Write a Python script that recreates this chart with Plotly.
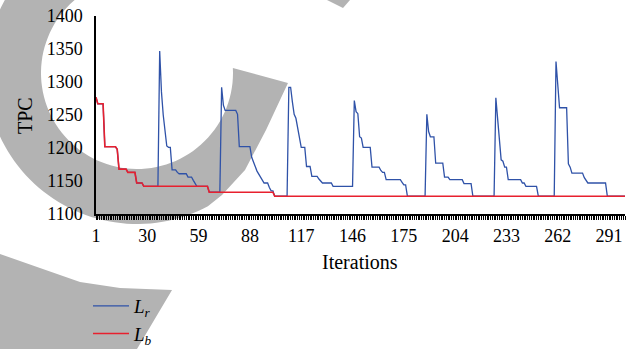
import numpy as np
import plotly.graph_objects as go

# ---------------- data ----------------
iterations = list(range(1, 301))
x_tick_values = [1, 30, 59, 88, 117, 146, 175, 204, 233, 262, 291]
y_tick_values = [1100, 1150, 1200, 1250, 1300, 1350, 1400]

# L_b (best) as step levels and run lengths (iterations per level)
lb_levels = [1277, 1267, 1202, 1198, 1168, 1163, 1147, 1142, 1133, 1127]
lb_runs = [1, 4, 7, 1, 5, 5, 4, 37, 37, 199]

# L_r equals L_b for the first iterations, then follows these levels / runs
lr_shared = 36
lr_levels = [
    1347, 1285, 1250, 1227, 1203, 1201, 1167, 1163, 1161, 1156, 1151, 1147, 1142, 1133,
    1292, 1265, 1257, 1251, 1202, 1186, 1180, 1172, 1165, 1160, 1155, 1150, 1147, 1140, 1135, 1127,
    1292, 1270, 1251, 1245, 1230, 1215, 1201, 1172, 1157, 1153, 1150, 1147, 1142,
    1272, 1255, 1252, 1217, 1215, 1201, 1171, 1166, 1163, 1152, 1148, 1144, 1127,
    1251, 1225, 1217, 1177, 1156, 1152, 1146, 1127,
    1276, 1245, 1205, 1182, 1180, 1171, 1152, 1147, 1142, 1127,
    1331, 1295, 1261, 1176, 1171, 1162, 1155, 1150, 1147, 1127,
]
lr_runs = [
    1, 1, 1, 1, 1, 2, 3, 1, 5, 3, 1, 1, 7, 7,
    1, 1, 7, 1, 7, 1, 1, 1, 1, 1, 1, 1, 3, 1, 2, 8,
    2, 1, 1, 1, 1, 1, 3, 3, 4, 1, 1, 6, 12,
    1, 1, 1, 1, 1, 5, 5, 1, 2, 9, 1, 2, 11,
    1, 1, 3, 5, 3, 8, 5, 13,
    1, 1, 1, 1, 1, 2, 8, 2, 7, 10,
    1, 1, 5, 1, 1, 7, 1, 1, 11, 11,
]

lb = np.repeat(lb_levels, lb_runs)
lr = np.concatenate([lb[:lr_shared], np.repeat(lr_levels, lr_runs)])

# ---------------- layout geometry ----------------
W, H = 629, 349
ML, MR, MT, MB = 96, 4, 16, 135
PW = W - ML - MR
PH = H - MT - MB


def to_paper(px, py):
    return ((px - ML) / PW, (H - MB - py) / PH)


def arc(cx, cy, r, a0, a1, n=90):
    a = np.radians(np.linspace(a0, a1, n))
    return list(zip(cx + r * np.cos(a), cy + r * np.sin(a)))


def path_from(points):
    pts = [to_paper(x, y) for x, y in points]
    return "M " + " L ".join(f"{x:.4f},{y:.4f}" for x, y in pts) + " Z"


# faint background watermark (decoration)
GRAY = "rgb(179,179,179)"
cx, cy, r_out, r_in = 137, 73, 151, 96
ring = (arc(cx, cy, r_out, 62, 265) + arc(cx, cy, r_in, 265, -3)
        + [(288, 83), (266, 130), (245, 170), (222, 195)])
legend_blob = [(0, 254), (40, 268), (80, 282), (120, 288), (172, 290), (137, 349), (0, 349)]
top_bit = [(327, 0), (350, 0), (343, 8)]

shapes = [
    dict(type="path", path=path_from(p), xref="paper", yref="paper",
         fillcolor=GRAY, line=dict(width=0), layer="below")
    for p in (ring, legend_blob, top_bit)
]

SERIF = "Liberation Serif, Times New Roman, serif"

fig = go.Figure()
fig.add_trace(go.Scatter(x=iterations, y=lr, mode="lines", name="<i>L<sub>r</sub></i>",
                         line=dict(color="#2f52a8", width=1.3)))
fig.add_trace(go.Scatter(x=iterations, y=lb, mode="lines", name="<i>L<sub>b</sub></i>",
                         line=dict(color="#e8202e", width=1.6)))

tpc_x, tpc_y = to_paper(25, 116)
it_x, it_y = to_paper(360, 262)
leg_x, leg_y = to_paper(88, 287)

fig.update_layout(
    width=W, height=H,
    margin=dict(l=ML, r=MR, t=MT, b=MB, pad=0, autoexpand=False),
    paper_bgcolor="white",
    plot_bgcolor="rgba(0,0,0,0)",
    font=dict(family=SERIF, color="black", size=18),
    shapes=shapes,
    showlegend=True,
    legend=dict(x=leg_x, y=leg_y, xanchor="left", yanchor="top",
                bgcolor="rgba(0,0,0,0)", font=dict(family=SERIF, size=19),
                tracegroupgap=0, itemwidth=36),
    xaxis=dict(
        range=[1, 300], tickmode="array", tickvals=x_tick_values,
        ticktext=[str(v) for v in x_tick_values],
        ticks="outside", ticklen=4, tickwidth=1, tickcolor="black",
        minor=dict(tickmode="linear", tick0=1, dtick=1, ticks="outside",
                   ticklen=4, tickwidth=1, tickcolor="black", showgrid=False),
        showline=True, linecolor="black", linewidth=2,
        showgrid=False, zeroline=False, automargin=False,
        tickfont=dict(family=SERIF, size=18, color="black"),
    ),
    yaxis=dict(
        range=[1100, 1400], tickmode="array", tickvals=y_tick_values,
        ticks="", showline=True, linecolor="black", linewidth=1.5,
        showgrid=False, zeroline=False, ticklabelstandoff=8, automargin=False,
        tickfont=dict(family=SERIF, size=18, color="black"),
    ),
    annotations=[
        dict(text="TPC", x=tpc_x, y=tpc_y, xref="paper", yref="paper",
             textangle=-90, showarrow=False, xanchor="center", yanchor="middle",
             font=dict(family=SERIF, size=20, color="black")),
        dict(text="Iterations", x=it_x, y=it_y, xref="paper", yref="paper",
             showarrow=False, xanchor="center", yanchor="middle",
             font=dict(family=SERIF, size=20, color="black")),
    ],
)

fig.write_html(
    "out.html",
    config={"displayModeBar": False},
    post_script="document.body.style.margin='0';document.body.style.overflow='hidden';",
)
